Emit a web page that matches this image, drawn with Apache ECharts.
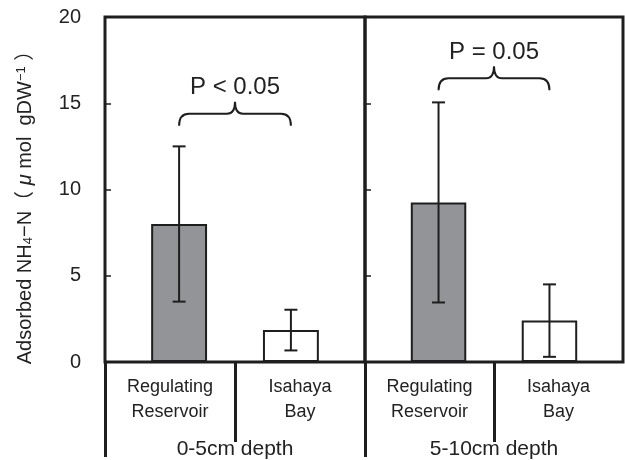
<!DOCTYPE html>
<html>
<head>
<meta charset="utf-8">
<script src="https://cdn.jsdelivr.net/npm/echarts@6/dist/echarts.min.js"></script>
<style>
  html, body { margin: 0; padding: 0; background: #fff; }
  #chart { width: 625px; height: 460px; }
</style>
</head>
<body>
<div id="chart"></div>
<script>
// Sampling depth groups (one panel each) and sites within each panel
const depths = ['0-5cm depth', '5-10cm depth'];
const sites = ['Regulating\nReservoir', 'Isahaya\nBay'];

// Mean adsorbed NH4-N (µmol gDW-1) and standard deviations, per depth
const regulating = [8.0, 9.25];
const regulatingSD = [4.5, 5.8];
const isahaya = [1.85, 2.4];
const isahayaSD = [1.18, 2.1];

// Significance annotations per depth and the value level the brace sits at
const pLabels = ['P < 0.05', 'P = 0.05'];
const braceLevel = [13.7, 15.75];

// Y axis ticks
const yMin = 0, yMax = 20, yStep = 5;

const INK = '#1e1e1e';
const FONT = "'Liberation Sans', Arial, 'Noto Sans CJK JP', sans-serif";
const BAR_FRAC = 0.215; // bar width as a share of the panel band (gap equals width)

const chart = echarts.init(document.getElementById('chart'), null, { renderer: 'canvas' });

const grids = [
  { left: 105, top: 17, width: 260, height: 348 },
  { left: 365, top: 17, width: 258, height: 348 }
];

const yAxes = [0, 1].map(g => ({
  type: 'value',
  gridIndex: g,
  min: yMin, max: yMax, interval: yStep,
  axisLine: { show: false },
  axisTick: { show: true, inside: true, length: 6, lineStyle: { color: INK, width: 1.5 } },
  splitLine: { show: false },
  axisLabel: {
    show: g === 0,
    margin: 24,
    fontSize: 20,
    fontFamily: FONT,
    color: '#222'
  },
  name: g === 0 ? '{t|Adsorbed NH}{s|4}{t|−N（ }{i|μ}{t| mol  gDW}{p|−1}{t| ）}' : '',
  nameLocation: 'middle',
  nameGap: 70,
  nameTextStyle: {
    padding: [0, 26, 0, 0],
    rich: {
      t: { fontSize: 20, fontFamily: FONT, color: '#222' },
      i: { fontSize: 20, fontFamily: FONT, fontStyle: 'italic', color: '#222' },
      s: { fontSize: 13, fontFamily: FONT, color: '#222', verticalAlign: 'bottom', padding: [7, 0, 0, 0] },
      p: { fontSize: 13, fontFamily: FONT, color: '#222', verticalAlign: 'top', padding: [0, 0, 7, 0] }
    }
  }
}));

const xAxes = [];
[0, 1].forEach(g => {
  // depth row: one band per panel
  xAxes.push({
    type: 'category',
    gridIndex: g,
    data: [depths[g]],
    position: 'bottom',
    axisLine: { show: false },
    axisTick: { show: g === 0, length: 95, lineStyle: { color: INK, width: 3 } },
    axisLabel: { margin: 77, fontSize: 21, fontFamily: FONT, color: '#222', lineHeight: 21 }
  });
  // site row: two cells per panel, split by a divider
  xAxes.push({
    type: 'value',
    gridIndex: g,
    min: 0, max: sites.length,
    position: 'bottom',
    axisLine: { show: false },
    splitLine: { show: false },
    axisTick: { show: true, customValues: [1], length: 80, lineStyle: { color: INK, width: 3 } },
    axisLabel: {
      customValues: [0.5, 1.5],
      formatter: v => sites[Math.floor(v)],
      margin: 13,
      fontSize: 18,
      lineHeight: 25,
      fontFamily: FONT,
      color: '#222'
    }
  });
});

function errorBarItem(params, api) {
  const side = api.value(3);
  const c = api.coord([api.value(0), api.value(1)]);
  const band = api.size([1, 0])[0];
  const x = c[0] + side * band * BAR_FRAC;
  const top = api.coord([api.value(0), api.value(1) + api.value(2)])[1];
  const bot = api.coord([api.value(0), api.value(1) - api.value(2)])[1];
  const cap = 6.5;
  const style = { stroke: INK, lineWidth: 2 };
  return {
    type: 'group',
    children: [
      { type: 'line', shape: { x1: x, y1: top, x2: x, y2: bot }, style },
      { type: 'line', shape: { x1: x - cap, y1: top, x2: x + cap, y2: top }, style },
      { type: 'line', shape: { x1: x - cap, y1: bot, x2: x + cap, y2: bot }, style }
    ]
  };
}

function braceItem(params, api) {
  const c = api.coord([api.value(0), api.value(1)]);
  const band = api.size([1, 0])[0];
  const off = band * BAR_FRAC;
  const x1 = c[0] - off, x2 = c[0] + off, xm = c[0];
  const yEnd = c[1];
  const yH = yEnd - 12;
  const yTip = yH - 12;
  const r = 10;
  const d = [
    'M', x1, yEnd,
    'Q', x1, yH, x1 + r, yH,
    'L', xm - 8, yH,
    'Q', xm, yH, xm, yTip,
    'Q', xm, yH, xm + 8, yH,
    'L', x2 - r, yH,
    'Q', x2, yH, x2, yEnd
  ].join(' ');
  return {
    type: 'group',
    children: [
      { type: 'path', shape: { pathData: d }, style: { stroke: INK, lineWidth: 2, fill: 'none' } },
      {
        type: 'text',
        style: {
          text: pLabels[api.value(2)],
          x: xm, y: yEnd - 38,
          align: 'center', verticalAlign: 'middle',
          fontSize: 24, fontFamily: FONT, fill: '#222'
        }
      }
    ]
  };
}

const series = [];
[0, 1].forEach(g => {
  const xi = g * 2;
  series.push({
    type: 'bar',
    name: 'Regulating Reservoir',
    xAxisIndex: xi, yAxisIndex: g,
    data: [regulating[g]],
    barWidth: (BAR_FRAC * 100) + '%',
    barGap: '100%',
    itemStyle: { color: '#939498', borderColor: INK, borderWidth: 2 },
    silent: true
  });
  series.push({
    type: 'bar',
    name: 'Isahaya Bay',
    xAxisIndex: xi, yAxisIndex: g,
    data: [isahaya[g]],
    barWidth: (BAR_FRAC * 100) + '%',
    barGap: '100%',
    itemStyle: { color: '#ffffff', borderColor: INK, borderWidth: 2 },
    silent: true
  });
  series.push({
    type: 'custom',
    xAxisIndex: xi, yAxisIndex: g,
    renderItem: errorBarItem,
    data: [
      [0, regulating[g], regulatingSD[g], -1],
      [0, isahaya[g], isahayaSD[g], 1]
    ],
    z: 5,
    silent: true
  });
  series.push({
    type: 'custom',
    xAxisIndex: xi, yAxisIndex: g,
    renderItem: braceItem,
    data: [[0, braceLevel[g], g]],
    z: 5,
    silent: true
  });
});

chart.setOption({
  animation: false,
  grid: grids.map(gr => Object.assign({
    show: true,
    borderColor: INK,
    borderWidth: 3,
    backgroundColor: 'transparent',
    containLabel: false
  }, gr)),
  xAxis: xAxes,
  yAxis: yAxes,
  series
});
</script>
</body>
</html>
